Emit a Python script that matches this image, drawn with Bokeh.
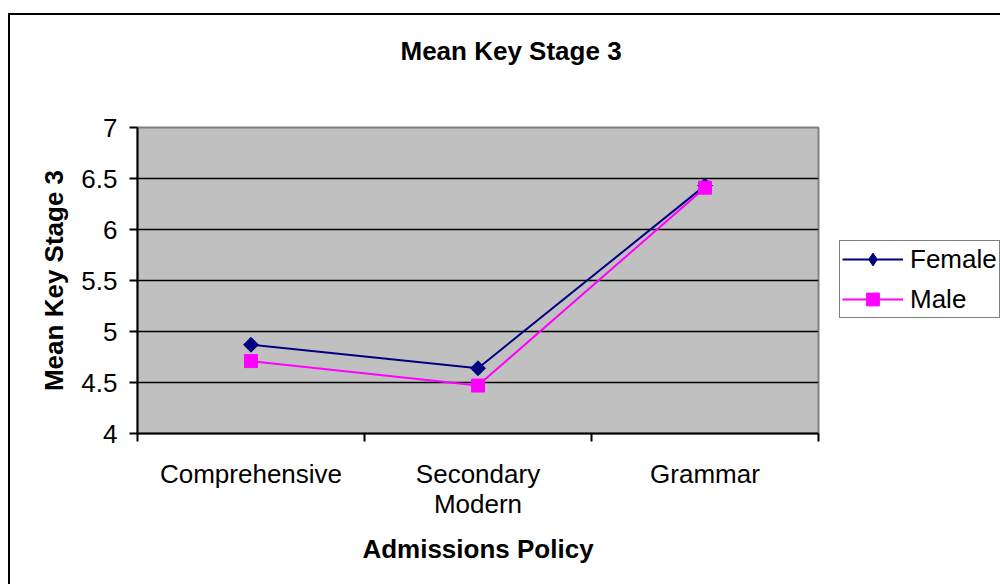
import math
from bokeh.plotting import figure
from bokeh.models import FixedTicker, Legend, LegendItem, Title
from bokeh.embed import file_html
from bokeh.resources import INLINE

categories = ["Comprehensive", "Secondary\nModern", "Grammar"]
female = [4.87, 4.64, 6.43]
male = [4.71, 4.47, 6.41]
y_ticks = [4, 4.5, 5, 5.5, 6, 6.5, 7]
y_tick_labels = ["4", "4.5", "5", "5.5", "6", "6.5", "7"]
title_text = "Mean Key Stage 3"

FONT = "Liberation Sans"
FS = "26px"

xs = [i + 0.5 for i in range(len(categories))]
bounds = list(range(len(categories) + 1))

p = figure(output_backend="svg", toolbar_location=None,
           x_range=(0, len(categories)), y_range=(min(y_ticks), max(y_ticks)),
           frame_width=681, frame_height=306,
           min_border_left=127, min_border_right=180,
           min_border_top=112, min_border_bottom=151)

p.styles = {"margin-left": "8px", "margin-top": "13px",
            "border-left": "2px solid black", "border-top": "2px solid black"}

p.background_fill_color = "#C0C0C0"
p.border_fill_color = "white"
p.outline_line_color = "#808080"
p.outline_line_width = 2

p.title.text = title_text
p.title.align = "left"
p.title.offset = 263
p.title.standoff = 2
p.title.text_font = FONT
p.title.text_font_size = FS
p.title.text_font_style = "bold"
p.title.text_color = "black"

# spacer between title and plot area
p.add_layout(Title(text=" ", text_font_size="2px", standoff=57), "above")

# x axis
xa = p.xaxis[0]
xa.ticker = FixedTicker(ticks=xs, minor_ticks=bounds)
xa.major_label_overrides = {x: c for x, c in zip(xs, categories)}
xa.major_tick_out = 0
xa.major_tick_in = 0
xa.minor_tick_out = 8
xa.minor_tick_in = 0
xa.minor_tick_line_color = "black"
xa.minor_tick_line_width = 2
xa.axis_line_color = "black"
xa.axis_line_width = 2
xa.major_label_text_font = FONT
xa.major_label_text_font_size = FS
xa.major_label_text_color = "black"
xa.major_label_text_line_height = 1.02
xa.major_label_standoff = 17
xa.axis_label = "Admissions Policy"
xa.axis_label_text_font = FONT
xa.axis_label_text_font_size = FS
xa.axis_label_text_font_style = "bold"
xa.axis_label_text_color = "black"
xa.axis_label_standoff = 12

# y axis
ya = p.yaxis[0]
ya.ticker = FixedTicker(ticks=y_ticks, minor_ticks=[])
ya.major_label_overrides = {t: s for t, s in zip(y_ticks, y_tick_labels)}
ya.major_tick_out = 8
ya.major_tick_in = 0
ya.major_tick_line_color = "black"
ya.major_tick_line_width = 2
ya.minor_tick_out = 0
ya.minor_tick_in = 0
ya.axis_line_color = "black"
ya.axis_line_width = 2
ya.major_label_text_font = FONT
ya.major_label_text_font_size = FS
ya.major_label_text_color = "black"
ya.major_label_standoff = 12
ya.axis_label = "Mean Key Stage 3"
ya.axis_label_text_font = FONT
ya.axis_label_text_font_size = FS
ya.axis_label_text_font_style = "bold"
ya.axis_label_text_color = "black"
ya.axis_label_standoff = 9

p.xgrid.visible = False
p.ygrid.grid_line_color = "black"
p.ygrid.grid_line_width = 1.5

NAVY = "#000080"
MAG = "#FF00FF"

lf = p.line(xs, female, line_color=NAVY, line_width=2)
mf = p.scatter(xs, female, marker="square", angle=math.pi / 4, size=10.5,
               fill_color=NAVY, line_color=NAVY)
# legend-only glyph (diamond shape for the legend swatch)
mf_leg = p.scatter(xs, female, marker="diamond", size=17,
                   fill_color=NAVY, line_color=NAVY, visible=False)
lm = p.line(xs, male, line_color=MAG, line_width=2)
mm = p.scatter(xs, male, marker="square", size=13,
               fill_color=MAG, line_color=MAG)

legend = Legend(items=[LegendItem(label="Female", renderers=[lf, mf_leg]),
                       LegendItem(label="Male", renderers=[lm, mm])],
                location=(21, 115), orientation="vertical",
                margin=0, padding=2, spacing=8,
                label_height=32, glyph_height=32, glyph_width=61,
                label_standoff=7,
                label_text_font=FONT, label_text_font_size=FS,
                label_text_color="black",
                border_line_color="black", border_line_width=1.5,
                background_fill_color="white", background_fill_alpha=1)
p.add_layout(legend, "right")

open("out.html", "w").write(file_html(p, INLINE))
